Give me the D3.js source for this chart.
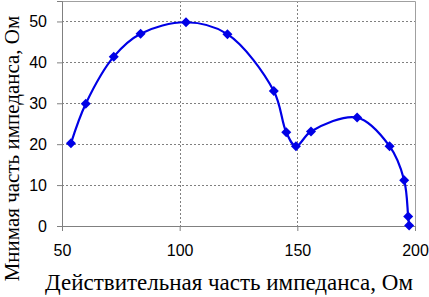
<!DOCTYPE html>
<html>
<head>
<meta charset="utf-8">
<script src="https://cdn.jsdelivr.net/npm/d3@7"></script>
<style>
  body { margin: 0; background: #fff; }
</style>
</head>
<body>
<div id="chart"></div>
<script>
var re = [53.8, 60.1, 72.0, 83.4, 102.7, 120.3, 140.0, 145.3, 149.4, 155.8, 175.4, 189.2, 195.4, 197.1, 197.5];
var im = [20.2, 29.9, 41.4, 47.0, 49.8, 46.9, 33.0, 22.9, 19.5, 23.1, 26.5, 19.5, 11.2, 2.3, 0.1];

var xTicks = [50, 100, 150, 200];
var yTicks = [0, 10, 20, 30, 40, 50];

var points = re.map(function(d, i) { return {x: d, y: im[i]}; });

var W = 429, H = 297;
var margin = {top: 1, right: 14, bottom: 71, left: 62},
    width = W - margin.left - margin.right,
    height = H - margin.top - margin.bottom;

var svg = d3.select("#chart")
  .append("svg")
    .attr("width", W)
    .attr("height", H);

var g = svg.append("g")
    .attr("transform", "translate(" + margin.left + "," + margin.top + ")");

var x = d3.scaleLinear().domain([50, 200]).range([0, width]);
var y = d3.scaleLinear().domain([0, 55]).range([height, 0]);

// grid
g.selectAll(".hgrid")
  .data(yTicks.filter(function(d) { return d > 0; }))
  .enter().append("line")
    .attr("x1", 0).attr("x2", width)
    .attr("y1", function(d) { return Math.round(y(d)) + 0.5; })
    .attr("y2", function(d) { return Math.round(y(d)) + 0.5; })
    .attr("stroke", "#808080")
    .attr("stroke-dasharray", "2,2");

g.selectAll(".vgrid")
  .data([100, 150])
  .enter().append("line")
    .attr("y1", 0).attr("y2", height)
    .attr("x1", function(d) { return Math.round(x(d)) + 0.5; })
    .attr("x2", function(d) { return Math.round(x(d)) + 0.5; })
    .attr("stroke", "#808080")
    .attr("stroke-dasharray", "2,2");

// frame top / right
g.append("path")
  .attr("d", "M0,0.5H" + (width + 0.5) + "V" + height)
  .attr("fill", "none")
  .attr("stroke", "#a0a0a0");

// axes
var xAxis = g.append("g")
  .attr("transform", "translate(0," + height + ")")
  .call(d3.axisBottom(x).tickValues(xTicks).tickSize(5).tickPadding(14));
var yAxis = g.append("g")
  .call(d3.axisLeft(y).tickValues(yTicks).tickSize(5).tickPadding(10));

[xAxis, yAxis].forEach(function(a) {
  a.select(".domain").attr("stroke", "#808080");
  a.selectAll(".tick line").attr("stroke", "#808080");
  a.selectAll("text")
    .attr("fill", "#000")
    .style("font-family", "'Liberation Sans', Arial, sans-serif")
    .style("font-size", "16px");
});

// curve
var line = d3.line()
  .x(function(d) { return x(d.x); })
  .y(function(d) { return y(d.y); })
  .curve(d3.curveCatmullRom.alpha(0.5));

g.append("path")
  .datum(points)
  .attr("d", line)
  .attr("fill", "none")
  .attr("stroke", "#0000e6")
  .attr("stroke-width", 2.2);

g.selectAll(".pt")
  .data(points)
  .enter().append("path")
    .attr("d", d3.symbol().type(d3.symbolDiamond2).size(64))
    .attr("transform", function(d) { return "translate(" + x(d.x) + "," + y(d.y) + ")"; })
    .attr("fill", "#0000e6");

// axis titles
svg.append("text")
  .attr("x", 229)
  .attr("y", 290)
  .attr("text-anchor", "middle")
  .style("font-family", "'Liberation Serif', 'Times New Roman', serif")
  .style("font-size", "23px")
  .text("Действительная часть импеданса, Ом");

svg.append("text")
  .attr("transform", "translate(18.5,148.5)rotate(-90)")
  .attr("text-anchor", "middle")
  .style("font-family", "'Liberation Serif', 'Times New Roman', serif")
  .style("font-size", "21px")
  .text("Мнимая часть импеданса, Ом");
</script>
</body>
</html>
